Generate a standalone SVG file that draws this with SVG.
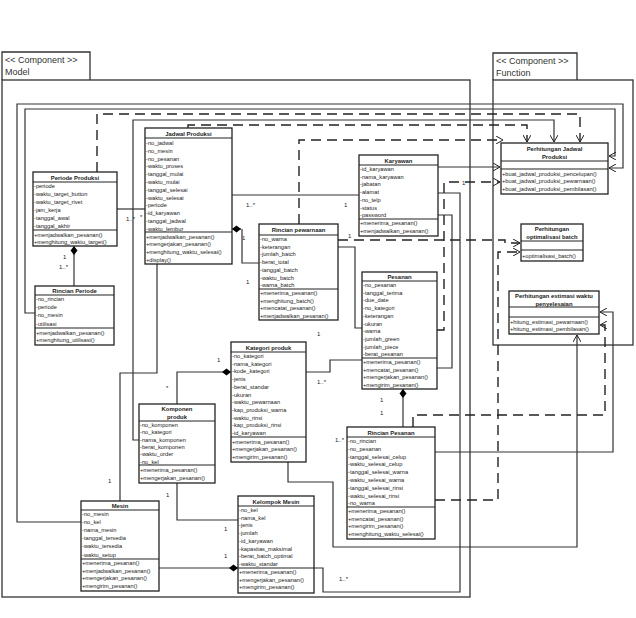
<svg xmlns="http://www.w3.org/2000/svg" width="636" height="618" viewBox="0 0 636 618">
<style>
text{font-family:"Liberation Sans",Arial,sans-serif;fill:#222}
.t{font-size:5.7px}
.h{font-size:5.9px;font-weight:bold;text-anchor:middle}
.c{font-size:9px;fill:#333}
.lb{font-size:6px}
.box{fill:#fff;stroke:#222;stroke-width:1.3}
.sep{stroke:#222;stroke-width:1.2}
.frame{fill:none;stroke:#333;stroke-width:1.3}
.ln{fill:none;stroke:#333;stroke-width:1.2}
.ds{fill:none;stroke:#222;stroke-width:1.4;stroke-dasharray:10,6}
</style>
<defs>
<marker id="ar" markerWidth="8" markerHeight="8" refX="7" refY="4" orient="auto" markerUnits="userSpaceOnUse"><path d="M0,0 L7,4 L0,8" fill="none" stroke="#222" stroke-width="1"/></marker>
<marker id="dm" markerWidth="10" markerHeight="8" refX="9" refY="4" orient="auto" markerUnits="userSpaceOnUse"><path d="M0,4 L4.5,0.5 L9,4 L4.5,7.5 Z" fill="#000"/></marker>
</defs>
<rect width="636" height="618" fill="#fff"/>
<g id="model-frame">
<path class="frame" d="M2,80 V52 H90 V80"/>
<rect class="frame" x="2" y="80" width="468" height="517"/>
<text class="c" x="5" y="63">&lt;&lt; Component &gt;&gt;</text>
<text class="c" x="5" y="75">Model</text>
</g>
<g id="function-frame">
<path class="frame" d="M493,80 V53 H577 V80"/>
<rect class="frame" x="493" y="80" width="140" height="265"/>
<text class="c" x="496" y="64">&lt;&lt; Component &gt;&gt;</text>
<text class="c" x="496" y="76">Function</text>
</g>
<g id="connectors">
<path class="ln" d="M35,313 H25 V109 H615 V156 H609" marker-end="url(#ar)"/>
<path class="ln" d="M81,522 H17 V104 H623 V168 H609" marker-end="url(#ar)"/>
<path class="ds" d="M97,172 V114 H580 V142" marker-end="url(#ar)"/>
<path class="ln" d="M139,440 H133 V120 H554 V142" marker-end="url(#ar)"/>
<path class="ds" d="M188,128 V125 H527 V142" marker-end="url(#ar)"/>
<path class="ds" d="M299,224 V140 H503" marker-end="url(#ar)"/>
<path class="ln" d="M232,195 H359"/>
<path class="ln" d="M117,209 H145"/>
<path class="ln" d="M242,229 V263 H259"/>
<path class="ln" d="M241,229 H232" marker-end="url(#dm)"/>
<path class="ln" d="M74,286 V246" marker-end="url(#dm)"/>
<path class="ln" d="M177,404 V372 H231" marker-end="url(#dm)"/>
<path class="ln" d="M403,427 V389" marker-end="url(#dm)"/>
<path class="ln" d="M159,568 H238" marker-end="url(#dm)"/>
<path class="ln" d="M177,483 V520 H238"/>
<path class="ln" d="M120,501 V373 H157 V260 H145"/>
<path class="ln" d="M306,372 H330 V360 H362"/>
<path class="ln" d="M338,247 H355 V328 H362"/>
<path class="ln" d="M438,167 H500" marker-end="url(#ar)"/>
<path class="ln" d="M438,215 H452 V368 H437"/>
<path class="ln" d="M314,568 H323 V592 H460 V193 H438"/>
<path class="ds" d="M338,240 H505 V243 H520" marker-end="url(#ar)"/>
<path class="ds" d="M437,330 H444 V182 H500" marker-end="url(#ar)"/>
<path class="ds" d="M435,500 H498 V252 H520" marker-end="url(#ar)"/>
<path class="ln" d="M288,462 V482 H333 V547 H577 V335" marker-end="url(#ar)"/>
<path class="ds" d="M413,427 V415 H605 V325 H600" marker-end="url(#ar)"/>
<path class="ln" d="M435,452 H613 V312 H600" marker-end="url(#ar)"/>
</g>
<g id="labels">
<text class="lb" x="246" y="207">1..*</text>
<text class="lb" x="344" y="207">1</text>
<text class="lb" x="242" y="240">1</text>
<text class="lb" x="246" y="284">1</text>
<text class="lb" x="126" y="221">1..*</text>
<text class="lb" x="140" y="219">*</text>
<text class="lb" x="63" y="259">1</text>
<text class="lb" x="59" y="269">1..*</text>
<text class="lb" x="217" y="362">1</text>
<text class="lb" x="166" y="390">*</text>
<text class="lb" x="317" y="384">1..*</text>
<text class="lb" x="335" y="442">1..*</text>
<text class="lb" x="380" y="402">1</text>
<text class="lb" x="380" y="415">1</text>
<text class="lb" x="108" y="483">1</text>
<text class="lb" x="166" y="497">1</text>
<text class="lb" x="224" y="531">1</text>
<text class="lb" x="224" y="558">1</text>
<text class="lb" x="339" y="581">1..*</text>
<text class="lb" x="317" y="336">1</text>
<text class="lb" x="462" y="185">1</text>
<text class="lb" x="348" y="238">1</text>
</g>
<g id="jadwal-produksi">
<rect class="box" x="145" y="128" width="87" height="136"/>
<path class="sep" d="M145,138 H232 M145,232 H232"/>
<text class="h" x="188.5" y="135.5">Jadwal Produksi</text>
<text class="t" x="146"><tspan x="146" y="145">-no_jadwal</tspan><tspan x="146" y="152.8">-no_mesin</tspan><tspan x="146" y="160.6">-no_pesanan</tspan><tspan x="146" y="168.4">-waktu_proses</tspan><tspan x="146" y="176.2">-tanggal_mulai</tspan><tspan x="146" y="184">-waktu_mulai</tspan><tspan x="146" y="191.8">-tanggal_selesai</tspan><tspan x="146" y="199.6">-waktu_selesai</tspan><tspan x="146" y="207.4">-periode</tspan><tspan x="146" y="215.2">-id_karyawan</tspan><tspan x="146" y="223">-tanggal_jadwal</tspan><tspan x="146" y="230.8">-waktu_lembur</tspan></text>
<text class="t"><tspan x="146" y="238.5">+menjadwalkan_pesanan()</tspan><tspan x="146" y="246.2">+mengerjakan_pesanan()</tspan><tspan x="146" y="254">+menghitung_waktu_selesai()</tspan><tspan x="146" y="261.7">+display()</tspan></text>
</g>
<g id="periode-produksi">
<rect class="box" x="33" y="172" width="84" height="74"/>
<path class="sep" d="M33,182 H117 M33,230 H117"/>
<text class="h" x="75" y="179.5">Periode Produksi</text>
<text class="t"><tspan x="34" y="188">-periode</tspan><tspan x="34" y="196">-waktu_target_button</tspan><tspan x="34" y="204">-waktu_target_rivet</tspan><tspan x="34" y="212">-jam_kerja</tspan><tspan x="34" y="220">-tanggal_awal</tspan><tspan x="34" y="228">-tanggal_akhir</tspan></text>
<text class="t"><tspan x="34" y="236.5">+menjadwalkan_pesanan()</tspan><tspan x="34" y="243.5">+menghitung_waktu_target()</tspan></text>
</g>
<g id="rincian-periode">
<rect class="box" x="35" y="286" width="79" height="59"/>
<path class="sep" d="M35,295 H114 M35,328 H114"/>
<text class="h" x="74.5" y="292.5">Rincian Periode</text>
<text class="t"><tspan x="36" y="301">-no_rincian</tspan><tspan x="36" y="309.2">-periode</tspan><tspan x="36" y="317.4">-no_mesin</tspan><tspan x="36" y="325.6">-utilisasi</tspan></text>
<text class="t"><tspan x="36" y="334.5">+menjadwalkan_pesanan()</tspan><tspan x="36" y="342">+menghitung_utilisasi()</tspan></text>
</g>
<g id="rincian-pewarnaan">
<rect class="box" x="259" y="224" width="79" height="96"/>
<path class="sep" d="M259,235 H338 M259,289 H338"/>
<text class="h" x="298.5" y="231.5">Rincian pewarnaan</text>
<text class="t"><tspan x="260" y="241">-no_warna</tspan><tspan x="260" y="248.7">-keterangan</tspan><tspan x="260" y="256.4">-jumlah_batch</tspan><tspan x="260" y="264.1">-berat_total</tspan><tspan x="260" y="271.8">-tanggal_batch</tspan><tspan x="260" y="279.5">-waktu_batch</tspan><tspan x="260" y="287.2">-warna_batch</tspan></text>
<text class="t"><tspan x="260" y="295">+menerima_pesanan()</tspan><tspan x="260" y="302.7">+menghitung_batch()</tspan><tspan x="260" y="310.4">+mencatat_pesanan()</tspan><tspan x="260" y="318.1">+menjadwalkan_pesanan()</tspan></text>
</g>
<g id="karyawan">
<rect class="box" x="359" y="155" width="79" height="81"/>
<path class="sep" d="M359,165 H438 M359,219 H438"/>
<text class="h" x="398.5" y="162.5">Karyawan</text>
<text class="t"><tspan x="360" y="171">-id_karyawan</tspan><tspan x="360" y="178.7">-nama_karyawan</tspan><tspan x="360" y="186.4">-jabatan</tspan><tspan x="360" y="194.1">-alamat</tspan><tspan x="360" y="201.8">-no_telp</tspan><tspan x="360" y="209.5">-status</tspan><tspan x="360" y="217.2">-password</tspan></text>
<text class="t"><tspan x="360" y="225">+menerima_pesanan()</tspan><tspan x="360" y="232.7">+menjadwalkan_pesanan()</tspan></text>
</g>
<g id="pesanan">
<rect class="box" x="362" y="272" width="75" height="117"/>
<path class="sep" d="M362,281 H437 M362,358 H437"/>
<text class="h" x="399.5" y="278.5">Pesanan</text>
<text class="t"><tspan x="363" y="287">-no_pesanan</tspan><tspan x="363" y="294.7">-tanggal_terima</tspan><tspan x="363" y="302.4">-due_date</tspan><tspan x="363" y="310.1">-no_kategori</tspan><tspan x="363" y="317.8">-keterangan</tspan><tspan x="363" y="325.5">-ukuran</tspan><tspan x="363" y="333.2">-warna</tspan><tspan x="363" y="340.9">-jumlah_green</tspan><tspan x="363" y="348.6">-jumlah_piece</tspan><tspan x="363" y="356.3">-berat_pesanan</tspan></text>
<text class="t"><tspan x="363" y="364">+menerima_pesanan()</tspan><tspan x="363" y="371.7">+mencatat_pesanan()</tspan><tspan x="363" y="379.4">+mengerjakan_pesanan()</tspan><tspan x="363" y="387.1">+mengirim_pesanan()</tspan></text>
</g>
<g id="perhitungan-jadwal-produksi">
<rect class="box" x="501" y="143" width="107" height="51"/>
<path class="sep" d="M501,161 H608 M501,169 H608"/>
<text class="h" x="554.5" y="150.5">Perhitungan Jadwal</text>
<text class="h" x="554.5" y="158.5">Produksi</text>
<text class="t"><tspan x="502" y="175.5">+buat_jadwal_produksi_pencelupan()</tspan><tspan x="502" y="183">+buat_jadwal_produksi_pewarnaan()</tspan><tspan x="502" y="190.5">+buat_jadwal_produksi_pembilasan()</tspan></text>
</g>
<g id="perhitungan-optimalisasi-batch">
<rect class="box" x="521" y="224" width="62" height="37"/>
<path class="sep" d="M521,241 H583 M521,250 H583"/>
<text class="h" x="552" y="231">Perhitungan</text>
<text class="h" x="552" y="239">optimalisasi batch</text>
<text class="t" x="522" y="257.5">+optimalisasi_batch()</text>
</g>
<g id="perhitungan-estimasi">
<rect class="box" x="509" y="291" width="90" height="43"/>
<path class="sep" d="M509,307 H599 M509,317 H599"/>
<text class="h" x="554" y="298">Perhitungan estimasi waktu</text>
<text class="h" x="554" y="305.5">penyelesaian</text>
<text class="t"><tspan x="510" y="323.5">+hitung_estimasi_pewarnaan()</tspan><tspan x="510" y="331">+hitung_estimasi_pembilasan()</tspan></text>
</g>
<g id="kategori-produk">
<rect class="box" x="231" y="342" width="75" height="120"/>
<path class="sep" d="M231,352 H306 M231,437 H306"/>
<text class="h" x="268.5" y="349.5">Kategori produk</text>
<text class="t"><tspan x="232" y="358">-no_kategori</tspan><tspan x="232" y="365.7">-nama_kategori</tspan><tspan x="232" y="373.4">-kode_kategori</tspan><tspan x="232" y="381.1">-jenis</tspan><tspan x="232" y="388.8">-berat_standar</tspan><tspan x="232" y="396.5">-ukuran</tspan><tspan x="232" y="404.2">-waktu_pewarnaan</tspan><tspan x="232" y="411.9">-kap_produksi_warna</tspan><tspan x="232" y="419.6">-waktu_rinsi</tspan><tspan x="232" y="427.3">-kap_produksi_rinsi</tspan><tspan x="232" y="435">-id_karyawan</tspan></text>
<text class="t"><tspan x="232" y="443.5">+menerima_pesanan()</tspan><tspan x="232" y="451.2">+mengerjakan_pesanan()</tspan><tspan x="232" y="458.9">+mengirim_pesanan()</tspan></text>
</g>
<g id="komponen-produk">
<rect class="box" x="139" y="404" width="76" height="79"/>
<path class="sep" d="M139,421 H215 M139,465 H215"/>
<text class="h" x="177" y="411">Komponen</text>
<text class="h" x="177" y="418.5">produk</text>
<text class="t"><tspan x="140" y="427">-no_komponen</tspan><tspan x="140" y="434.3">-no_kategori</tspan><tspan x="140" y="441.6">-nama_komponen</tspan><tspan x="140" y="448.9">-berat_komponen</tspan><tspan x="140" y="456.2">-waktu_order</tspan><tspan x="140" y="463.5">-no_kel</tspan></text>
<text class="t"><tspan x="140" y="471.5">+menerima_pesanan()</tspan><tspan x="140" y="479.5">+mengerjakan_pesanan()</tspan></text>
</g>
<g id="rincian-pesanan">
<rect class="box" x="347" y="427" width="88" height="112"/>
<path class="sep" d="M347,437 H435 M347,507 H435"/>
<text class="h" x="391" y="434.5">Rincian Pesanan</text>
<text class="t"><tspan x="348" y="443">-no_rincian</tspan><tspan x="348" y="450.8">-no_pesanan</tspan><tspan x="348" y="458.6">-tanggal_selesai_celup</tspan><tspan x="348" y="466.4">-waktu_selesai_celup</tspan><tspan x="348" y="474.2">-tanggal_selesai_warna</tspan><tspan x="348" y="482">-waktu_selesai_warna</tspan><tspan x="348" y="489.8">-tanggal_selesai_rinsi</tspan><tspan x="348" y="497.6">-waktu_selesai_rinsi</tspan><tspan x="348" y="505.4">-no_warna</tspan></text>
<text class="t"><tspan x="348" y="513">+menerima_pesanan()</tspan><tspan x="348" y="520.7">+mencatat_pesanan()</tspan><tspan x="348" y="528.4">+mengirim_pesanan()</tspan><tspan x="348" y="536.1">+menghitung_waktu_selesai()</tspan></text>
</g>
<g id="mesin">
<rect class="box" x="81" y="501" width="78" height="90"/>
<path class="sep" d="M81,510 H159 M81,559 H159"/>
<text class="h" x="120" y="507.5">Mesin</text>
<text class="t"><tspan x="82" y="516">-no_mesin</tspan><tspan x="82" y="524.1">-no_kel</tspan><tspan x="82" y="532.2">-nama_mesin</tspan><tspan x="82" y="540.3">-tanggal_tersedia</tspan><tspan x="82" y="548.4">-waktu_tersedia</tspan><tspan x="82" y="556.5">-waktu_setup</tspan></text>
<text class="t"><tspan x="82" y="565">+menerima_pesanan()</tspan><tspan x="82" y="572.7">+menjadwalkan_pesanan()</tspan><tspan x="82" y="580.4">+mengerjakan_pesanan()</tspan><tspan x="82" y="588.1">+mengirim_pesanan()</tspan></text>
</g>
<g id="kelompok-mesin">
<rect class="box" x="238" y="496" width="76" height="97"/>
<path class="sep" d="M238,506 H314 M238,568 H314"/>
<text class="h" x="276" y="503.5">Kelompok Mesin</text>
<text class="t"><tspan x="239" y="512">-no_kel</tspan><tspan x="239" y="519.7">-nama_kel</tspan><tspan x="239" y="527.4">-jenis</tspan><tspan x="239" y="535.1">-jumlah</tspan><tspan x="239" y="542.8">-id_karyawan</tspan><tspan x="239" y="550.5">-kapasitas_maksimal</tspan><tspan x="239" y="558.2">-berat_batch_optimal</tspan><tspan x="239" y="565.9">-waktu_standar</tspan></text>
<text class="t"><tspan x="239" y="574">+menerima_pesanan()</tspan><tspan x="239" y="581.7">+mengerjakan_pesanan()</tspan><tspan x="239" y="589.4">+mengirim_pesanan()</tspan></text>
</g>
</svg>
